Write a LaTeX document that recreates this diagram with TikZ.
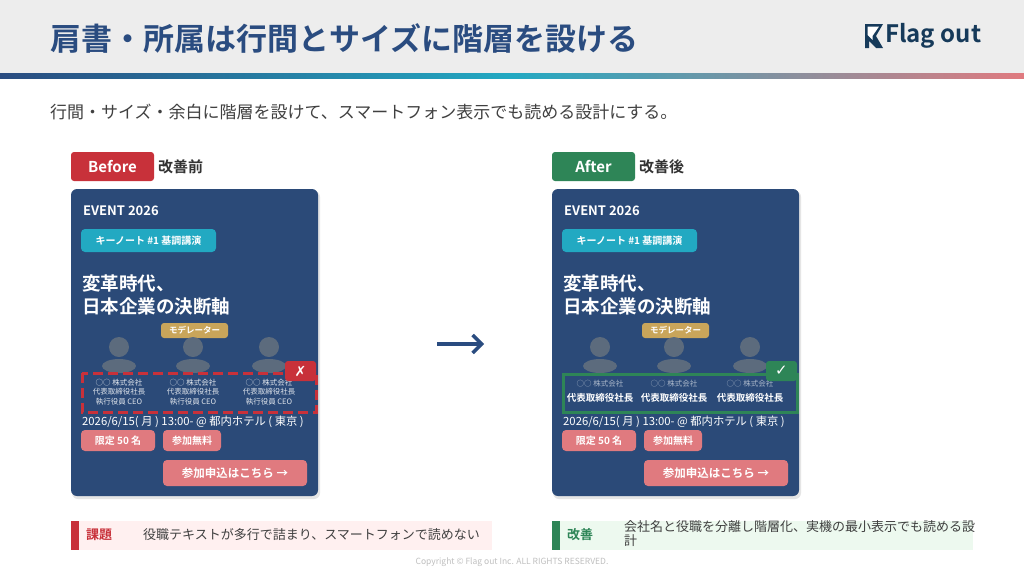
\documentclass[tikz,border=0pt]{standalone}
\usepackage{fontspec}
\setmainfont{Noto Sans CJK JP}[BoldFont={Noto Sans CJK JP Bold}]
\newfontfamily\dejavu{DejaVu Sans}
\usetikzlibrary{shapes.geometric,arrows.meta}
\definecolor{navy}{HTML}{2B4A78}
\definecolor{ttl}{HTML}{2A4C80}
\definecolor{teal}{HTML}{22A9C2}
\definecolor{gold}{HTML}{C9A55A}
\definecolor{av}{HTML}{5C6B7D}
\definecolor{pinkb}{HTML}{E07A7F}
\definecolor{redc}{HTML}{C8313A}
\definecolor{greenc}{HTML}{2E8557}
\definecolor{logo}{HTML}{163A5A}
\tikzset{
 x=1pt,y=-1pt,
 card/.style={fill=navy,rounded corners=6pt,draw=none},
 wt/.style={text=white,inner sep=0,anchor=west},
 pill/.style={rounded corners=4pt,text=white,font=\bfseries\fontsize{10}{11}\selectfont,inner sep=0},
}
\newcommand\mkcard[2]{%
 \begin{scope}[shift={(#1,0)}]
 \fill[black!10,rounded corners=6pt] (1,191) rectangle (249,499);
 \fill[card] (0,189) rectangle (247,496);
 \node[wt,font=\bfseries\fontsize{13}{13}\selectfont] (#2ev) at (12,211) {EVENT 2026};
 \fill[teal,rounded corners=4pt] (10,229) rectangle (145,252);
 \node[pill] (#2k) at (77.5,240.5) {キーノート \#1 基調講演};
 \node[wt,font=\bfseries\fontsize{18.5}{18}\selectfont] (#2t1) at (11,283) {変革時代、};
 \node[wt,font=\bfseries\fontsize{18.5}{18}\selectfont] (#2t2) at (11,306) {日本企業の決断軸};
 \fill[gold,rounded corners=3pt] (90,323) rectangle (157,338);
 \node[pill,font=\bfseries\fontsize{8.5}{8}\selectfont] (#2m) at (123.5,330.5) {モデレーター};
 \foreach \ax in {48,122,198}{
  \fill[av] (\ax,347) circle (10);
  \fill[av] (\ax,366) ellipse (17 and 7);
 }
 \node[wt,font=\fontsize{11.3}{12}\selectfont] (#2d) at (11,422) {2026/6/15( 月 ) 13:00- @ 都内ホテル ( 東京 )};
 \fill[pinkb,rounded corners=4pt] (10,430) rectangle (84,451);
 \node[pill] (#2p1) at (47,440.5) {限定 50 名};
 \fill[pinkb,rounded corners=4pt] (92,430) rectangle (150,451);
 \node[pill] (#2p2) at (121,440.5) {参加無料};
 \fill[pinkb,rounded corners=4pt] (92,460) rectangle (236,486);
 \node[pill,font=\bfseries\fontsize{11.5}{12}\selectfont] (#2cta) at (164,473) {参加申込はこちら →};
 \end{scope}}
\begin{document}
\begin{tikzpicture}
\useasboundingbox (0,0) rectangle (1024,576);
\fill[white] (0,0) rectangle (1024,576);
\fill[black!7] (0,0) rectangle (1024,73);
\shade[left color=ttl,right color=teal] (0,73) rectangle (512,78);
\shade[left color=teal,right color=pinkb] (512,73) rectangle (1024,78);
\node[anchor=west,inner sep=0,text=ttl,font=\bfseries\fontsize{31}{31}\selectfont] (title) at (50,38) {肩書・所属は行間とサイズに階層を設ける};
\fill[logo] (865,24) -- (883,24) -- (876,36) -- (883,48) -- (876,48) -- (869,41) -- (869,48) -- (865,48) -- cycle;
\fill[white] (867.5,26.5) -- (879,26.5) -- (872.5,36) -- (872.5,40) -- (867.5,35) -- cycle;
\node[anchor=west,inner sep=0,text=logo,font=\bfseries\fontsize{24}{24}\selectfont] (logo) at (885,36) {Flag out};
\node[anchor=west,inner sep=0,text=black!75,font=\fontsize{17}{16}\selectfont] (sub) at (50,112) {行間・サイズ・余白に階層を設けて、スマートフォン表示でも読める設計にする。};
% labels
\fill[redc,rounded corners=3pt] (71,152) rectangle (154,181);
\node[pill,font=\bfseries\fontsize{15}{15}\selectfont] (bef) at (112.5,166.5) {Before};
\node[anchor=west,inner sep=0,font=\bfseries\fontsize{15}{15}\selectfont,text=black!80] (befj) at (158,166.5) {改善前};
\fill[greenc,rounded corners=3pt] (552,152) rectangle (635,181);
\node[pill,font=\bfseries\fontsize{15}{15}\selectfont] (aft) at (593.5,166.5) {After};
\node[anchor=west,inner sep=0,font=\bfseries\fontsize{15}{15}\selectfont,text=black!80] (aftj) at (639,166.5) {改善後};
\mkcard{71}{b}
\mkcard{552}{a}
% before texts
\foreach \cx/\n in {119/1,193/2,269/3}{
 \node[text=white!85!navy,font=\fontsize{7.5}{9.3}\selectfont,align=center,inner sep=0] (bt\n) at (\cx,392) {○○ 株式会社\\代表取締役社長\\執行役員 CEO};
}
\draw[redc,line width=3pt,dash pattern=on 10pt off 5pt] (82,373) rectangle (316,412);
\fill[redc,rounded corners=3pt] (285,361) rectangle (316,381);
\node[pill,font=\dejavu\bfseries\fontsize{14}{14}\selectfont] (x) at (300.5,371) {✗};
% after texts
\foreach \cx/\n in {600/1,674/2,750/3}{
 \node[text=white!60!navy,font=\fontsize{7.5}{8}\selectfont,inner sep=0] (ac\n) at (\cx,384) {○○ 株式会社};
 \node[text=white,font=\bfseries\fontsize{9.5}{10}\selectfont,inner sep=0] (at\n) at (\cx,398) {代表取締役社長};
}
\draw[greenc,line width=3pt] (563,374) rectangle (797,412);
\fill[greenc,rounded corners=3pt] (766,361) rectangle (797,381);
\node[pill,font=\dejavu\bfseries\fontsize{15}{15}\selectfont] (ck) at (781.5,371) {✓};
% arrow
\coordinate (as) at (437,344);
\coordinate (ae) at (484,344);
\draw[ttl,line width=3.5pt,-{Straight Barb[length=9pt,width=18pt,line width=3.5pt]}] (as) -- (ae);
% bottom
\fill[red!6] (71,521) rectangle (492,550);
\fill[redc] (71,521) rectangle (79,550);
\node[anchor=west,inner sep=0,text=redc,font=\bfseries\fontsize{13}{13}\selectfont] (kd) at (86,535) {課題};
\node[anchor=west,inner sep=0,text=black!75,font=\fontsize{13}{13}\selectfont] (kdt) at (143,535) {役職テキストが多行で詰まり、スマートフォンで読めない};
\fill[green!40!greenc!8] (552,521) rectangle (973,550);
\fill[greenc] (552,521) rectangle (560,550);
\node[anchor=west,inner sep=0,text=greenc,font=\bfseries\fontsize{13}{13}\selectfont] (kz) at (567,535) {改善};
\node[anchor=north west,inner sep=0,text=black!75,font=\fontsize{13}{14}\selectfont,align=left] (kzt) at (624,520) {会社名と役職を分離し階層化、実機の最小表示でも読める設\\計};
\node[text=black!25,font=\fontsize{8.5}{8}\selectfont,inner sep=0] (copy) at (512,562) {Copyright © Flag out Inc. ALL RIGHTS RESERVED.};
\end{tikzpicture}
\end{document}
